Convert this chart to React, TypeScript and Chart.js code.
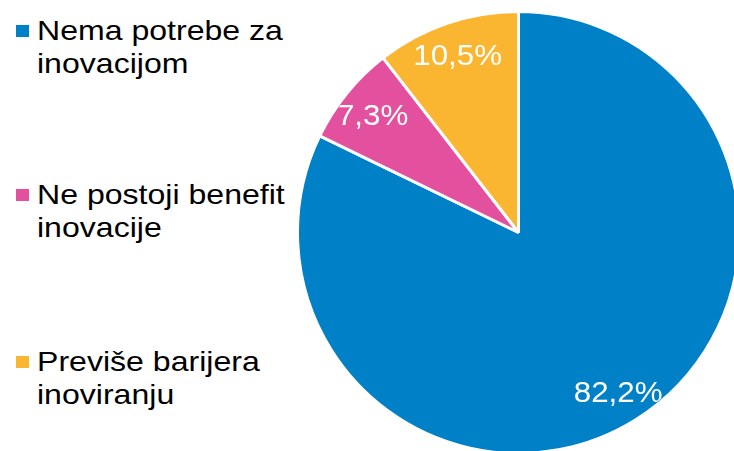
import React, { useEffect, useRef } from "react";
import { Chart, registerables } from "chart.js";

Chart.register(...registerables);

const categories: string[][] = [
  ["Nema potrebe za", "inovacijom"],
  ["Ne postoji benefit", "inovacije"],
  ["Previše barijera", "inoviranju"],
];
const values: number[] = [82.2, 7.3, 10.5];
const valueLabels: string[] = ["82,2%", "7,3%", "10,5%"];
const colors: string[] = ["#0080C6", "#E3509D", "#FBB631"];

const FONT = "'Liberation Sans', Arial, Helvetica, sans-serif";

const labelPlugin = {
  id: "sliceLabels",
  afterDatasetsDraw(chart: any) {
    const meta = chart.getDatasetMeta(0);
    const ctx = chart.ctx as CanvasRenderingContext2D;
    const size = 29;
    meta.data.forEach((arc: any, i: number) => {
      const { x, y, startAngle, endAngle, outerRadius } = arc.getProps(
        ["x", "y", "startAngle", "endAngle", "outerRadius"],
        true
      );
      const mid = (startAngle + endAngle) / 2;
      const d = outerRadius * 0.85;
      const lx = x + Math.cos(mid) * d;
      const ly = y + Math.sin(mid) * d;
      ctx.save();
      ctx.beginPath();
      ctx.arc(x, y, outerRadius - 2, 0, Math.PI * 2);
      ctx.clip();
      ctx.translate(lx, ly + size * 0.358);
      ctx.scale(1.08, 1);
      ctx.font = `${size}px ${FONT}`;
      ctx.fillStyle = "#FFFFFF";
      ctx.textAlign = "center";
      ctx.textBaseline = "alphabetic";
      ctx.fillText(valueLabels[i], 0, 0);
      ctx.restore();
    });
  },
};

export default function App() {
  const canvasRef = useRef<HTMLCanvasElement | null>(null);

  useEffect(() => {
    if (!canvasRef.current) return;
    const chart = new Chart(canvasRef.current, {
      type: "pie",
      data: {
        labels: categories.map((c) => c.join(" ")),
        datasets: [
          {
            data: values,
            backgroundColor: colors,
            borderColor: "#FFFFFF",
            borderWidth: 3,
          },
        ],
      },
      options: {
        responsive: false,
        animation: false,
        layout: { padding: 0 },
        plugins: {
          legend: { display: false },
          tooltip: { enabled: false },
        },
      },
      plugins: [labelPlugin],
    });
    return () => chart.destroy();
  }, []);

  const legendTops = [14, 178, 345];

  return (
    <div
      style={{
        position: "fixed",
        left: 0,
        top: 0,
        width: 734,
        height: 451,
        overflow: "hidden",
        background: "#FFFFFF",
      }}
    >
      <div
        style={{
          position: "absolute",
          left: 296,
          top: 10,
          width: 445,
          height: 445,
        }}
      >
        <canvas ref={canvasRef} width={445} height={445} />
      </div>
      {categories.map((lines, i) => (
        <div key={i}>
          <div
            style={{
              position: "absolute",
              left: 16,
              top: legendTops[i] + 11,
              width: 13,
              height: 12,
              background: colors[i],
            }}
          />
          <div
            style={{
              position: "absolute",
              left: 37,
              top: legendTops[i],
              fontFamily: FONT,
              fontSize: 28,
              lineHeight: "33px",
              color: "#000000",
              whiteSpace: "nowrap",
              transform: "scaleX(1.145)",
              transformOrigin: "left top",
            }}
          >
            {lines.map((l, j) => (
              <div key={j}>{l}</div>
            ))}
          </div>
        </div>
      ))}
    </div>
  );
}
